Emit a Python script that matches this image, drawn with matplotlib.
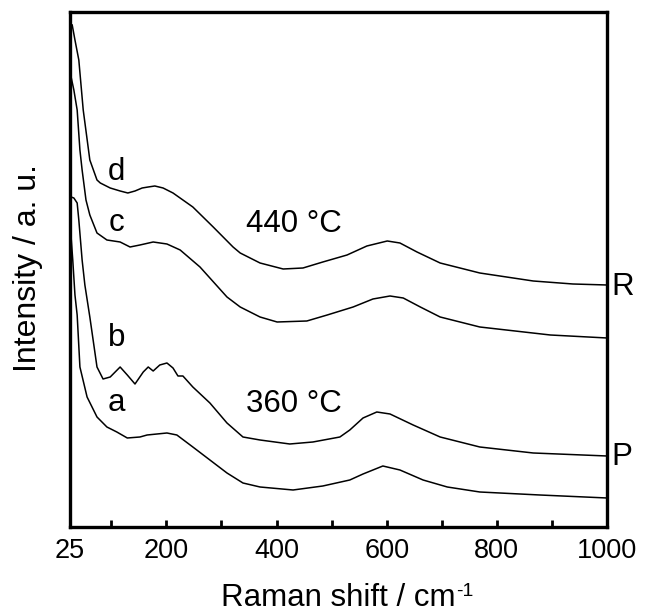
import numpy as np
import matplotlib
matplotlib.use("Agg")
import matplotlib.pyplot as plt
from matplotlib.ticker import FixedLocator

plt.rcParams['font.family'] = ['Liberation Sans', 'DejaVu Sans']

# Raman spectra, offset traces (intensity in arbitrary units)
x_a = [27, 30, 34, 38, 43, 56, 74, 92, 110, 129, 152, 165, 201, 219, 248, 279, 310, 339,
       370, 430, 484, 533, 557, 593, 624, 666, 710, 769, 878, 1000]
y_a = [290, 267, 232, 212, 160, 130, 110, 100, 95, 89, 90, 92, 94, 92, 80, 67, 54, 44,
       40, 37, 41, 47, 53, 61, 57, 47, 40, 35, 32, 29]

x_b = [27, 32, 38, 41, 47, 52, 61, 74, 85, 98, 116, 129, 143, 158, 167, 176, 188, 201, 212,
       221, 230, 248, 279, 310, 339, 370, 424, 466, 515, 533, 557, 582, 606, 648, 697, 769,
       866, 1000]
y_b = [330, 329, 324, 307, 267, 242, 210, 160, 148, 150, 160, 152, 143, 155, 160, 156, 162,
       164, 159, 151, 151, 140, 124, 104, 90, 87, 83, 85, 90, 97, 109, 115, 113, 102, 90, 80,
       74, 71]

x_c = [27, 32, 38, 43, 47, 54, 61, 74, 92, 116, 134, 152, 176, 201, 225, 261, 310, 334,
       370, 401, 455, 492, 539, 575, 606, 630, 661, 697, 769, 897, 1000]
y_c = [450, 437, 417, 377, 357, 327, 312, 294, 287, 285, 280, 282, 285, 283, 277, 260, 230,
       220, 210, 205, 206, 212, 220, 228, 231, 229, 220, 210, 200, 192, 189]

x_d = [29, 34, 41, 49, 61, 74, 80, 98, 116, 130, 143, 156, 167, 179, 194, 212, 248, 285,
       321, 334, 370, 412, 448, 484, 528, 564, 601, 624, 655, 697, 769, 866, 938, 1000]
y_d = [502, 487, 467, 417, 367, 347, 344, 339, 336, 334, 336, 339, 340, 341, 339, 334, 320,
       300, 280, 274, 264, 258, 259, 265, 272, 281, 286, 284, 275, 264, 254, 246, 243, 242]

major_ticks = [25, 200, 400, 600, 800, 1000]
minor_ticks = [100, 300, 500, 700, 900]

fig = plt.figure(figsize=(6.53, 6.15), dpi=100)
ax = fig.add_axes([0.1072, 0.1431, 0.8224, 0.8374])

for xs, ys in [(x_a, y_a), (x_b, y_b), (x_c, y_c), (x_d, y_d)]:
    ax.plot(xs, ys, color='black', lw=1.1)

ax.set_xlim(25, 1000)
ax.set_ylim(0, 515)
ax.xaxis.set_major_locator(FixedLocator(major_ticks))
ax.xaxis.set_minor_locator(FixedLocator(minor_ticks))
ax.tick_params(axis='x', which='both', direction='in', length=5, width=2,
               labelsize=19.5, pad=8)
ax.set_yticks([])
for s in ax.spines.values():
    s.set_linewidth(2.4)

# axis labels (superscript written as a plain hyphen like the original)
xl = fig.text(0.5176, 1 - 606 / 615, 'Raman shift / cm', fontsize=22.5,
              ha='center', va='baseline')
ax.annotate('-1', xy=(1, 0), xycoords=xl, xytext=(0.5, 12.5), textcoords='offset points',
            fontsize=14, ha='left', va='baseline')
fig.text(28 / 653, 1 - 268 / 615, 'Intensity / a. u.', fontsize=23,
         rotation=90, ha='center', va='center')

# trace labels
ax.text(110, 355, 'd', fontsize=22.5, ha='center', va='center')
ax.text(110, 304, 'c', fontsize=22.5, ha='center', va='center')
ax.text(110, 189, 'b', fontsize=22.5, ha='center', va='center')
ax.text(110, 124, 'a', fontsize=22.5, ha='center', va='center')
ax.text(432, 303, '440 \u00b0C', fontsize=22.5, ha='center', va='center')
ax.text(432, 123, '360 \u00b0C', fontsize=22.5, ha='center', va='center')
ax.text(1008, 240, 'R', fontsize=22.5, ha='left', va='center', clip_on=False)
ax.text(1008, 70, 'P', fontsize=22.5, ha='left', va='center', clip_on=False)

fig.savefig('out.png', dpi=100)
